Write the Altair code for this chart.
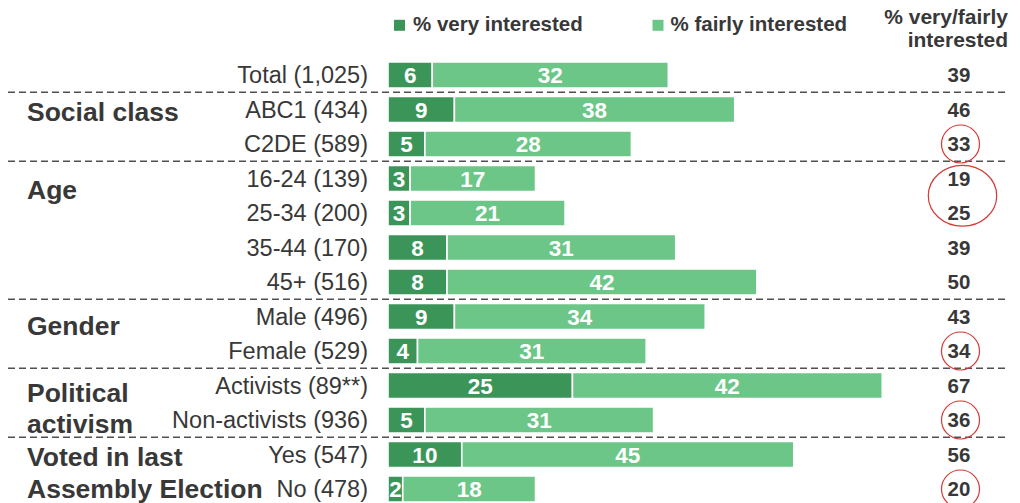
import altair as alt
import pandas as pd

# ---------------- data ----------------
categories = ["Total (1,025)", "ABC1 (434)", "C2DE (589)", "16-24 (139)", "25-34 (200)",
              "35-44 (170)", "45+ (516)", "Male (496)", "Female (529)",
              "Activists (89**)", "Non-activists (936)", "Yes (547)", "No (478)"]
very = [6, 9, 5, 3, 3, 8, 8, 9, 4, 25, 5, 10, 2]
fairly = [32, 38, 28, 17, 21, 31, 42, 34, 31, 42, 31, 45, 18]
totals = [39, 46, 33, 19, 25, 39, 50, 43, 34, 67, 36, 56, 20]

group_sizes = [2, 4, 2, 2, 2]          # rows per group after "Total"
group_lines = [["Social class"], ["Age"], ["Gender"],
               ["Political", "activism"], ["Voted in last", "Assembly Election"]]
group_line_dy = [[2.5], [11], [9], [7, 4], [2, 0]]   # pixel nudges (style)
highlighted = [["C2DE (589)"], ["16-24 (139)", "25-34 (200)"], ["Female (529)"],
               ["Non-activists (936)"], ["No (478)"]]
legend_labels = ["% very interested", "% fairly interested"]
header_lines = ["% very/fairly", "interested"]
series = ["very", "fairly"]
colors = ["#3c9558", "#6cc687"]

# ---------------- layout constants ----------------
FONT = "Liberation Sans"
TXT = "#383838"
ROW_PX = 34.5
HALF = 13 / ROW_PX
W, H = 1004, 495

xscale = alt.Scale(domain=[0, 67], range=[380, 874.3], nice=False, zero=False)
yscale = alt.Scale(domain=[0, 12], range=[67, 481], nice=False, zero=False)
cscale = alt.Scale(domain=series, range=colors)

# ---------------- tables built from the arrays ----------------
bar_rows = []
for i, (c, v, f) in enumerate(zip(categories, very, fairly)):
    bar_rows.append(dict(cat=c, pos=i, series="very", x0=0, x1=v, val=v))
    bar_rows.append(dict(cat=c, pos=i, series="fairly", x0=v, x1=v + f, val=f))
bars_df = pd.DataFrame(bar_rows)

rows_df = pd.DataFrame(dict(cat=categories, pos=list(range(len(categories))), total=totals))

bounds = []
start = 1
bounds.append(start - 0.5)
for s in group_sizes[:-1]:
    start += s
    bounds.append(start - 0.5)
sep_df = pd.DataFrame(dict(pos=bounds))

glab = []
start = 1
for lines, dys, s in zip(group_lines, group_line_dy, group_sizes):
    for j, (ln, dy) in enumerate(zip(lines, dys)):
        glab.append(dict(label=ln, pos=start + j + dy / ROW_PX))
    start += s
glab_df = pd.DataFrame(glab)

hl_single, hl_double = [], []
for grp in highlighted:
    idx = [categories.index(g) for g in grp]
    p = sum(idx) / len(idx)
    (hl_single if len(idx) == 1 else hl_double).append(dict(pos=p))
hl1_df = pd.DataFrame(hl_single)
hl2_df = pd.DataFrame(hl_double)

Y = alt.Y("pos:Q", scale=yscale, axis=None)

base_bars = alt.Chart(bars_df).transform_calculate(
    y_top=f"datum.pos - {HALF}", y_bot=f"datum.pos + {HALF}", mid="(datum.x0 + datum.x1) / 2"
)
bars = base_bars.mark_rect(stroke="white", strokeWidth=1.6).encode(
    x=alt.X("x0:Q", scale=xscale, axis=None),
    x2="x1:Q",
    y=alt.Y("y_top:Q", scale=yscale, axis=None),
    y2="y_bot:Q",
    color=alt.Color("series:N", scale=cscale, legend=None),
)
bar_text = base_bars.mark_text(font=FONT, fontSize=22.5, fontWeight="bold", color="white",
                               baseline="middle", align="center", dy=1).encode(
    x=alt.X("mid:Q", scale=xscale, axis=None),
    y=Y,
    text="val:Q",
)

cat_text = alt.Chart(rows_df).mark_text(font=FONT, fontSize=23.5, color=TXT, align="right",
                                        baseline="middle", dy=1).encode(
    x=alt.value(360), y=Y, text="cat:N")

tot_text = alt.Chart(rows_df).mark_text(font=FONT, fontSize=20.5, fontWeight="bold", color=TXT,
                                        align="center", baseline="middle", dy=1).encode(
    x=alt.value(951), y=Y, text="total:Q")

grp_text = alt.Chart(glab_df).mark_text(font=FONT, fontSize=26.5, fontWeight="bold", color=TXT,
                                        align="left", baseline="middle", dy=1).encode(
    x=alt.value(19), y=Y, text="label:N")

seps = alt.Chart(sep_df).mark_rule(color="#505050", strokeWidth=1.3, strokeDash=[7, 4]).encode(
    x=alt.value(0), x2=alt.value(998), y=Y)

circles = alt.Chart(hl1_df).mark_point(shape="circle", size=1444, filled=False,
                                       stroke="#d33a35", strokeWidth=1.2, opacity=1).encode(
    x=alt.value(952.5), y=Y)
ellipse_path = "M -1 0 A 1 0.89 0 1 1 1 0 A 1 0.89 0 1 1 -1 0 Z"
ellipses = alt.Chart(hl2_df).mark_point(shape=ellipse_path, size=4679, filled=False,
                                        stroke="#d33a35", strokeWidth=1.2, opacity=1).encode(
    x=alt.value(954.5), y=Y)

leg_df = pd.DataFrame(dict(label=legend_labels, series=series))
leg_sq1 = alt.Chart(leg_df.iloc[[0]]).mark_square(size=121, opacity=1).encode(
    x=alt.value(391.5), y=alt.value(17.3),
    color=alt.Color("series:N", scale=cscale, legend=None))
leg_sq2 = alt.Chart(leg_df.iloc[[1]]).mark_square(size=121, opacity=1).encode(
    x=alt.value(650), y=alt.value(17.3),
    color=alt.Color("series:N", scale=cscale, legend=None))
leg_t1 = alt.Chart(leg_df.iloc[[0]]).mark_text(font=FONT, fontSize=20.5, fontWeight="bold", color=TXT,
                                               align="left", baseline="alphabetic").encode(
    x=alt.value(405), y=alt.value(23), text="label:N")
leg_t2 = alt.Chart(leg_df.iloc[[1]]).mark_text(font=FONT, fontSize=20.5, fontWeight="bold", color=TXT,
                                               align="left", baseline="alphabetic").encode(
    x=alt.value(662.5), y=alt.value(23), text="label:N")

hdr_df = pd.DataFrame(dict(label=header_lines))
hdr1 = alt.Chart(hdr_df.iloc[[0]]).mark_text(font=FONT, fontSize=21, fontWeight="bold", color=TXT,
                                             align="right", baseline="alphabetic").encode(
    x=alt.value(1000), y=alt.value(15.5), text="label:N")
hdr2 = alt.Chart(hdr_df.iloc[[1]]).mark_text(font=FONT, fontSize=21, fontWeight="bold", color=TXT,
                                             align="right", baseline="alphabetic").encode(
    x=alt.value(1000), y=alt.value(38.5), text="label:N")

chart = alt.layer(
    seps, bars, bar_text, cat_text, tot_text, grp_text, circles, ellipses,
    leg_sq1, leg_sq2, leg_t1, leg_t2, hdr1, hdr2
).properties(
    width=W, height=H, autosize=alt.AutoSizeParams(type="none"), padding=0, background="white"
).configure_view(stroke=None)

chart.save("out.html", embed_options={"renderer": "svg", "actions": False})
